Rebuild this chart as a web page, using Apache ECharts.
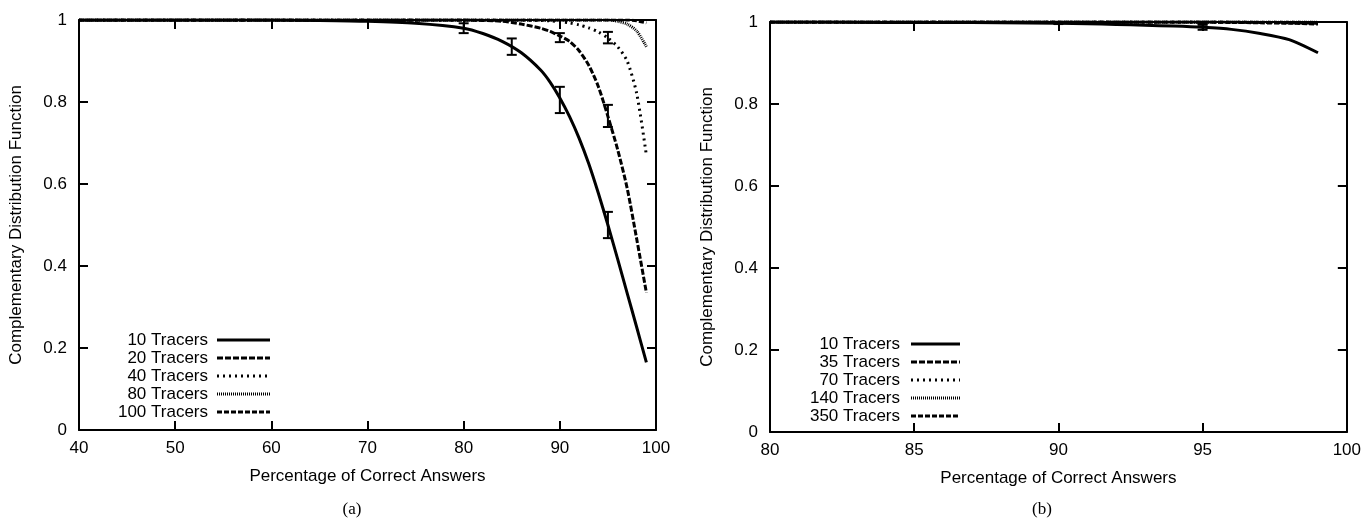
<!DOCTYPE html>
<html>
<head>
<meta charset="utf-8">
<title>Complementary Distribution Function</title>
<script src="https://cdn.jsdelivr.net/npm/echarts@6/dist/echarts.min.js"></script>
<style>
  html, body { margin: 0; padding: 0; background: #fff; }
  #chart { width: 1364px; height: 527px; }
</style>
</head>
<body>
<div id="chart"></div>
<script>
// (a) left panel
var xLeft = [40, 50, 60, 65, 70, 75, 80, 82, 84, 86, 88, 89, 90, 91, 92, 93, 94, 95, 96, 97, 98, 99];
var left10  = [1, 1, 1, 0.999, 0.997, 0.992, 0.98, 0.967, 0.948, 0.92, 0.878, 0.848, 0.81, 0.765, 0.712, 0.65, 0.578, 0.50, 0.418, 0.334, 0.25, 0.165];
var left20  = [1, 1, 1, 1, 1, 1, 1, 0.999, 0.997, 0.99, 0.98, 0.972, 0.961, 0.948, 0.925, 0.89, 0.838, 0.765, 0.685, 0.59, 0.465, 0.335];
var left40  = [1, 1, 1, 1, 1, 1, 1, 1, 1, 1, 0.999, 0.998, 0.996, 0.993, 0.988, 0.981, 0.971, 0.956, 0.935, 0.90, 0.82, 0.67];
var left80  = [1, 1, 1, 1, 1, 1, 1, 1, 1, 1, 1, 1, 1, 1, 1, 1, 1, 1, 0.997, 0.99, 0.973, 0.935];
var left100 = [1, 1, 1, 1, 1, 1, 1, 1, 1, 1, 1, 1, 1, 1, 1, 1, 1, 1, 1, 1, 0.998, 0.993];
var leftNames = ['10 Tracers', '20 Tracers', '40 Tracers', '80 Tracers', '100 Tracers'];
// error bars: x, centre, half width
var errLeftX   = [80, 85, 90, 95, 90, 95, 95];
var errLeftMid = [0.98, 0.935, 0.805, 0.50, 0.957, 0.766, 0.957];
var errLeftHalf = [0.012, 0.02, 0.032, 0.032, 0.011, 0.027, 0.014];

// (b) right panel
var xRight = [80, 82, 84, 86, 88, 90, 91, 92, 93, 94, 95, 96, 97, 98, 99];
var right10  = [1, 1, 0.999, 0.999, 0.998, 0.997, 0.996, 0.994, 0.992, 0.99, 0.987, 0.982, 0.972, 0.957, 0.925];
var right35  = [1, 1, 1, 1, 1, 1, 1, 1, 1, 1, 1, 1, 0.999, 0.998, 0.997];
var right70  = [1, 1, 1, 1, 1, 1, 1, 1, 1, 1, 1, 1, 1, 1, 0.999];
var right140 = [1, 1, 1, 1, 1, 1, 1, 1, 1, 1, 1, 1, 1, 1, 1];
var right350 = [1, 1, 1, 1, 1, 1, 1, 1, 1, 1, 1, 0.999, 0.998, 0.997, 0.995];
var rightNames = ['10 Tracers', '35 Tracers', '70 Tracers', '140 Tracers', '350 Tracers'];
var errRightX   = [90, 95, 95];
var errRightMid = [0.997, 0.987, 0.998];
var errRightHalf = [0.002, 0.006, 0.002];

var yTicks = [0, 0.2, 0.4, 0.6, 0.8, 1];

var FONT = '"Liberation Sans", Arial, Helvetica, sans-serif';
var FS = 17;
// line dash patterns per legend slot
var dashes = ['solid', [6, 2], [2, 4], [1, 1], [5, 2]];

function pairs(xs, ys) {
  var out = [];
  for (var i = 0; i < xs.length; i++) out.push([xs[i], ys[i]]);
  return out;
}
function errData(xs, mid, half) {
  var out = [];
  for (var i = 0; i < xs.length; i++) out.push([xs[i], mid[i] - half[i], mid[i] + half[i]]);
  return out;
}
function errorBar(params, api) {
  var x = api.value(0);
  var lo = api.coord([x, api.value(1)]);
  var hi = api.coord([x, api.value(2)]);
  var w = 5, st = { stroke: '#000', lineWidth: 2 };
  return { type: 'group', children: [
    { type: 'line', shape: { x1: lo[0], y1: lo[1], x2: hi[0], y2: hi[1] }, style: st },
    { type: 'line', shape: { x1: lo[0] - w, y1: lo[1], x2: lo[0] + w, y2: lo[1] }, style: st },
    { type: 'line', shape: { x1: hi[0] - w, y1: hi[1], x2: hi[0] + w, y2: hi[1] }, style: st }
  ]};
}

function xAxes(grid, min, max, step) {
  var base = {
    gridIndex: grid, type: 'value', min: min, max: max, interval: step,
    axisLine: { show: true, onZero: false, lineStyle: { color: '#000', width: 2 } },
    axisTick: { show: true, inside: true, length: 9, lineStyle: { color: '#000', width: 2 } },
    splitLine: { show: false }
  };
  var bottom = Object.assign({}, base, {
    position: 'bottom',
    name: 'Percentage of Correct Answers', nameLocation: 'middle', nameGap: 38,
    nameTextStyle: { fontFamily: FONT, fontSize: FS, color: '#000' },
    axisLabel: { fontFamily: FONT, fontSize: FS, color: '#000', margin: 10 }
  });
  var top = Object.assign({}, base, { position: 'top', axisLabel: { show: false } });
  return [bottom, top];
}
function yAxes(grid) {
  var base = {
    gridIndex: grid, type: 'value', min: 0, max: 1, interval: 0.2,
    axisLine: { show: true, onZero: false, lineStyle: { color: '#000', width: 2 } },
    axisTick: { show: true, inside: true, length: 9, lineStyle: { color: '#000', width: 2 } },
    splitLine: { show: false }
  };
  var leftAx = Object.assign({}, base, {
    position: 'left',
    name: 'Complementary Distribution Function', nameLocation: 'middle', nameGap: 54,
    nameTextStyle: { fontFamily: FONT, fontSize: FS, color: '#000' },
    axisLabel: { fontFamily: FONT, fontSize: FS, color: '#000', margin: 12,
      formatter: function (v) { return yTicks.indexOf(v) >= 0 ? String(v) : ''; } }
  });
  var rightAx = Object.assign({}, base, { position: 'right', axisLabel: { show: false } });
  return [leftAx, rightAx];
}

function lineSeries(name, xs, ys, slot, xi, yi) {
  return {
    name: name, type: 'line', xAxisIndex: xi, yAxisIndex: yi,
    data: pairs(xs, ys), symbol: 'none', smooth: 0.25, animation: false,
    lineStyle: { color: '#000', width: 3, type: dashes[slot] }, z: 10 - slot
  };
}

var series = [];
var leftSets = [left10, left20, left40, left80, left100];
var rightSets = [right10, right35, right70, right140, right350];
for (var i = 0; i < 5; i++) {
  series.push(lineSeries(leftNames[i], xLeft, leftSets[i], i, 0, 0));
  series.push(lineSeries('b ' + rightNames[i], xRight, rightSets[i], i, 2, 2));
}
series.push({ type: 'custom', xAxisIndex: 0, yAxisIndex: 0, renderItem: errorBar,
  encode: { x: 0, y: [1, 2] }, data: errData(errLeftX, errLeftMid, errLeftHalf), z: 20, animation: false });
series.push({ type: 'custom', xAxisIndex: 2, yAxisIndex: 2, renderItem: errorBar,
  encode: { x: 0, y: [1, 2] }, data: errData(errRightX, errRightMid, errRightHalf), z: 20, animation: false });

// hand-made legends (text right-aligned before the line sample)
function legendGraphics(names, textRight, lineX0, lineX1, y0, step) {
  var g = [];
  for (var i = 0; i < names.length; i++) {
    var y = y0 + i * step;
    g.push({ type: 'text', x: textRight, y: y,
      style: { text: names[i], fill: '#000', font: FS + 'px ' + FONT, textAlign: 'right', textVerticalAlign: 'middle' } });
    g.push({ type: 'line', shape: { x1: lineX0, y1: y, x2: lineX1, y2: y },
      style: { stroke: '#000', lineWidth: 3, lineDash: dashes[i] === 'solid' ? null : dashes[i] } });
  }
  return g;
}
var graphics = []
  .concat(legendGraphics(leftNames, 208, 217, 270, 340, 18))
  .concat(legendGraphics(rightNames, 900, 911, 960, 344, 18));
graphics.push({ type: 'text', x: 352, y: 510,
  style: { text: '(a)', fill: '#000', font: '17px "Liberation Serif", "Times New Roman", serif', textAlign: 'center', textVerticalAlign: 'middle' } });
graphics.push({ type: 'text', x: 1042, y: 510,
  style: { text: '(b)', fill: '#000', font: '17px "Liberation Serif", "Times New Roman", serif', textAlign: 'center', textVerticalAlign: 'middle' } });

var chart = echarts.init(document.getElementById('chart'), null, { renderer: 'canvas' });
chart.setOption({
  backgroundColor: '#fff',
  animation: false,
  grid: [
    { left: 79, top: 20, width: 577, height: 410 },
    { left: 770, top: 22, width: 578, height: 410 }
  ],
  xAxis: xAxes(0, 40, 100, 10).concat(xAxes(1, 80, 100, 5)),
  yAxis: yAxes(0).concat(yAxes(1)),
  series: series,
  graphic: graphics
});
</script>
</body>
</html>
